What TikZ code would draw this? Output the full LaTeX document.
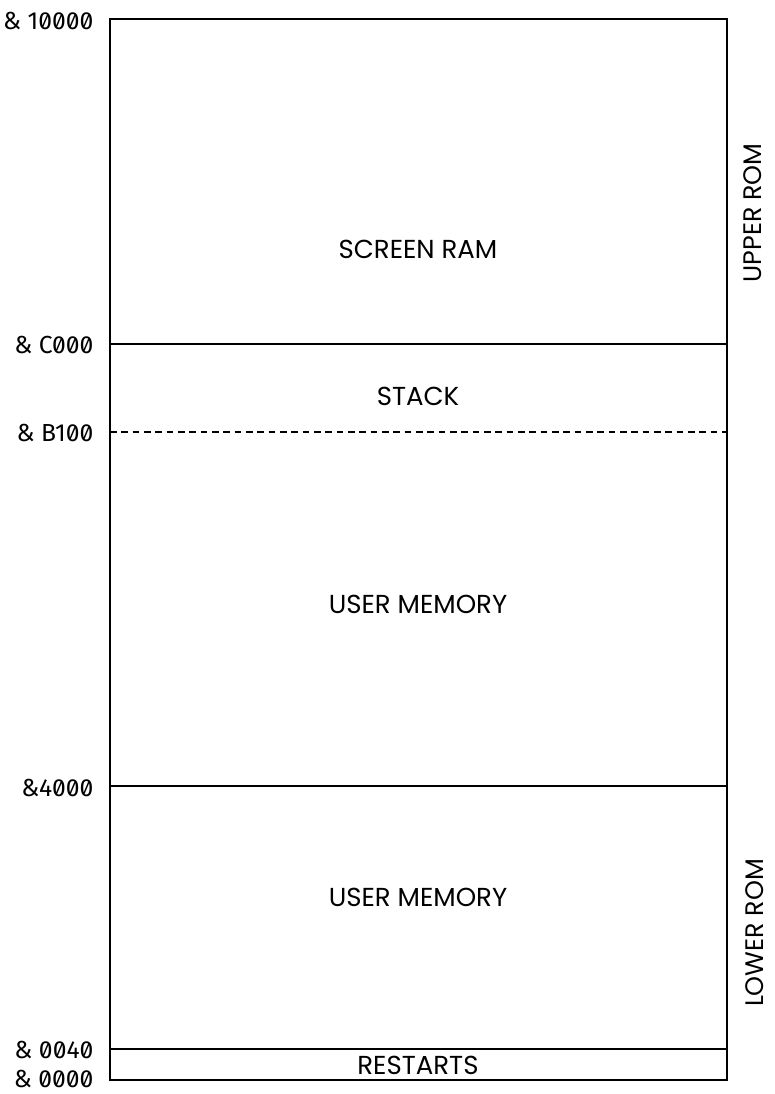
\documentclass[tikz,border=0pt]{standalone}
\usepackage{fontspec}
\setmainfont{Poppins}
\newfontfamily\addrfont[RawFeature=+zero]{Fira Sans}
\begin{document}
\begin{tikzpicture}[x=0.75pt,y=-0.75pt,
    region/.style={font=\fontsize{19.5}{22}\selectfont},
    addr/.style={anchor=east,inner sep=1pt,font=\addrfont\fontsize{18.5}{22}\selectfont},
    side/.style={rotate=90,inner sep=0pt,font=\fontsize{19}{22}\selectfont}]
    \useasboundingbox (0,0) rectangle (774,1094);
    % outline of the memory map
    \coordinate (top) at (110,19);
    \coordinate (bot) at (727,1080);
    \draw[line width=1.1pt] (top) rectangle (bot);
    % dividers between the areas
    \draw[line width=1pt] (110,344) -- (727,344);
    \draw[line width=0.8pt, dashed, dash pattern=on 5pt off 3.5pt] (110,432) -- (727,432);
    \draw[line width=1pt] (110,786) -- (727,786);
    \draw[line width=1pt] (110,1049) -- (727,1049);
    % area names
    \node[region] (screen) at (418,249) {SCREEN RAM};
    \node[region] (stack) at (418,396) {STACK};
    \node[region] (usrhi) at (418,604) {USER MEMORY};
    \node[region] (usrlo) at (418,897) {USER MEMORY};
    \node[region] (rst) at (418,1065) {RESTARTS};
    % addresses down the left side
    \node[addr] (a10000) at (95,21) {\& 10000};
    \node[addr] (aC000) at (95,345) {\& C000};
    \node[addr] (aB100) at (95,433) {\& B100};
    \node[addr] (a4000) at (95,788) {\&4000};
    \node[addr] (a0040) at (95,1050) {\& 0040};
    \node[addr] (a0000) at (95,1079) {\& 0000};
    % roms on the right
    \node[side] (urom) at (753,213) {UPPER ROM};
    \node[side] (lrom) at (755,933) {LOWER ROM};
\end{tikzpicture}
\end{document}
